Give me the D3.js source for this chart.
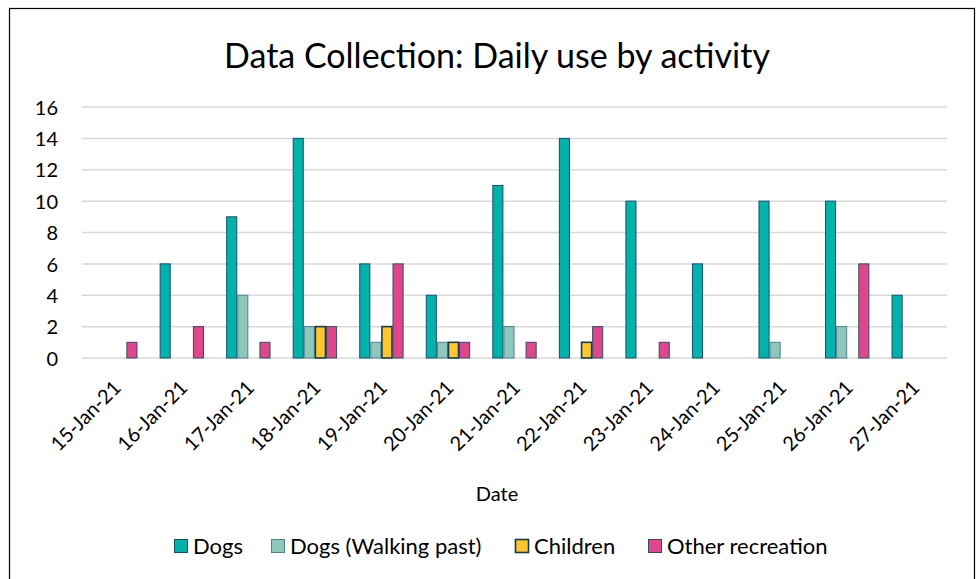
<!DOCTYPE html>
<html>
<head>
<meta charset="utf-8">
<script src="https://cdn.jsdelivr.net/npm/d3@7"></script>
<style>
  html, body { margin: 0; padding: 0; background: #fff; }
  svg { display: block; font-family: Lato, "Open Sans", sans-serif; }
</style>
</head>
<body>
<svg id="chart" width="979" height="579"></svg>
<script>
const dates = ["15-Jan-21","16-Jan-21","17-Jan-21","18-Jan-21","19-Jan-21","20-Jan-21","21-Jan-21","22-Jan-21","23-Jan-21","24-Jan-21","25-Jan-21","26-Jan-21","27-Jan-21"];
const seriesNames = ["Dogs","Dogs (Walking past)","Children","Other recreation"];
const dogs        = [0, 6, 9, 14, 6, 4, 11, 14, 10, 6, 10, 10, 4];
const dogsWalking = [0, 0, 4, 2, 1, 1, 2, 0, 0, 0, 1, 2, 0];
const children    = [0, 0, 0, 2, 2, 1, 0, 1, 0, 0, 0, 0, 0];
const otherRec    = [1, 2, 1, 2, 6, 1, 1, 2, 1, 0, 0, 6, 0];
const yTicks = [0, 2, 4, 6, 8, 10, 12, 14, 16];
const titleText = "Data Collection: Daily use by activity";
const xTitle = "Date";

const seriesValues = [dogs, dogsWalking, children, otherRec];
const fills   = ["#00B2A9", "#8DC8BA", "#FFC72C", "#E0478A"];
const strokes = ["#1A4F6E", "#4F7F92", "#0F3B5C", "#2E4D6E"];
const strokeW = [1, 1, 1.6, 1];

const svg = d3.select("#chart");

// chart border
svg.append("rect").attr("x", 9.5).attr("y", 8.5).attr("width", 965).attr("height", 575)
  .attr("fill", "#fff").attr("stroke", "#000").attr("stroke-width", 1.2);

// title
svg.append("text").attr("x", 497).attr("y", 68).attr("text-anchor", "middle")
  .attr("font-size", 34).attr("fill", "#000").text(titleText);

const x0 = d3.scaleBand().domain(dates).range([82, 947]).padding(0);
const x1 = d3.scaleBand().domain(seriesNames).range([0, x0.bandwidth()]).paddingInner(0).paddingOuter(1);
const y = d3.scaleLinear().domain([0, 16]).range([358, 107]);

// gridlines
svg.append("g").selectAll("line").data(yTicks).join("line")
  .attr("x1", 82).attr("x2", 947)
  .attr("y1", d => y(d)).attr("y2", d => y(d))
  .attr("stroke", "#D9D9D9").attr("stroke-width", 1.5);

// y tick labels
const yAxis = d3.axisLeft(y).tickValues(yTicks).tickSize(0).tickPadding(0);
const gy = svg.append("g").attr("transform", "translate(58,0)").call(yAxis);
gy.select(".domain").remove();
gy.selectAll("text").attr("font-size", 20).attr("font-family", "Lato, sans-serif").attr("fill", "#000").attr("dy", "0.36em");

// bars
const rows = [];
dates.forEach((d, i) => {
  seriesNames.forEach((s, k) => {
    const v = seriesValues[k][i];
    if (v > 0) rows.push({date: d, series: s, k, v});
  });
});
svg.append("g").selectAll("rect").data(rows).join("rect")
  .attr("x", d => x0(d.date) + x1(d.series) + 0.5)
  .attr("y", d => y(d.v))
  .attr("width", x1.bandwidth() - 1)
  .attr("height", d => y(0) - y(d.v))
  .attr("fill", d => fills[d.k])
  .attr("stroke", d => strokes[d.k])
  .attr("stroke-width", d => strokeW[d.k]);

// x tick labels (rotated)
const xAxis = d3.axisBottom(x0).tickSize(0).tickPadding(0);
const gx = svg.append("g").call(xAxis);
gx.select(".domain").remove();
gx.selectAll(".tick").attr("transform", d => `translate(${x0(d) + x0.bandwidth() / 2 + 7},389)`);
gx.selectAll("text").attr("font-size", 20).attr("font-family", "Lato, sans-serif").attr("fill", "#000")
  .attr("text-anchor", "end").attr("y", 0).attr("dy", 0).attr("transform", "rotate(-45)");

// x axis title
svg.append("text").attr("x", 497).attr("y", 501).attr("text-anchor", "middle")
  .attr("font-size", 20).attr("fill", "#000").text(xTitle);

// legend
const legendX = [174, 271, 515, 648];
const lg = svg.append("g").selectAll("g").data(seriesNames).join("g")
  .attr("transform", (d, i) => `translate(${legendX[i]},539)`);
lg.append("rect").attr("x", 0.5).attr("y", 0.5).attr("width", 13).attr("height", 13)
  .attr("fill", (d, i) => fills[i]).attr("stroke", (d, i) => strokes[i]).attr("stroke-width", (d, i) => strokeW[i]);
lg.append("text").attr("x", 19).attr("y", 15).attr("font-size", 22).attr("fill", "#000").text(d => d);
</script>
</body>
</html>
